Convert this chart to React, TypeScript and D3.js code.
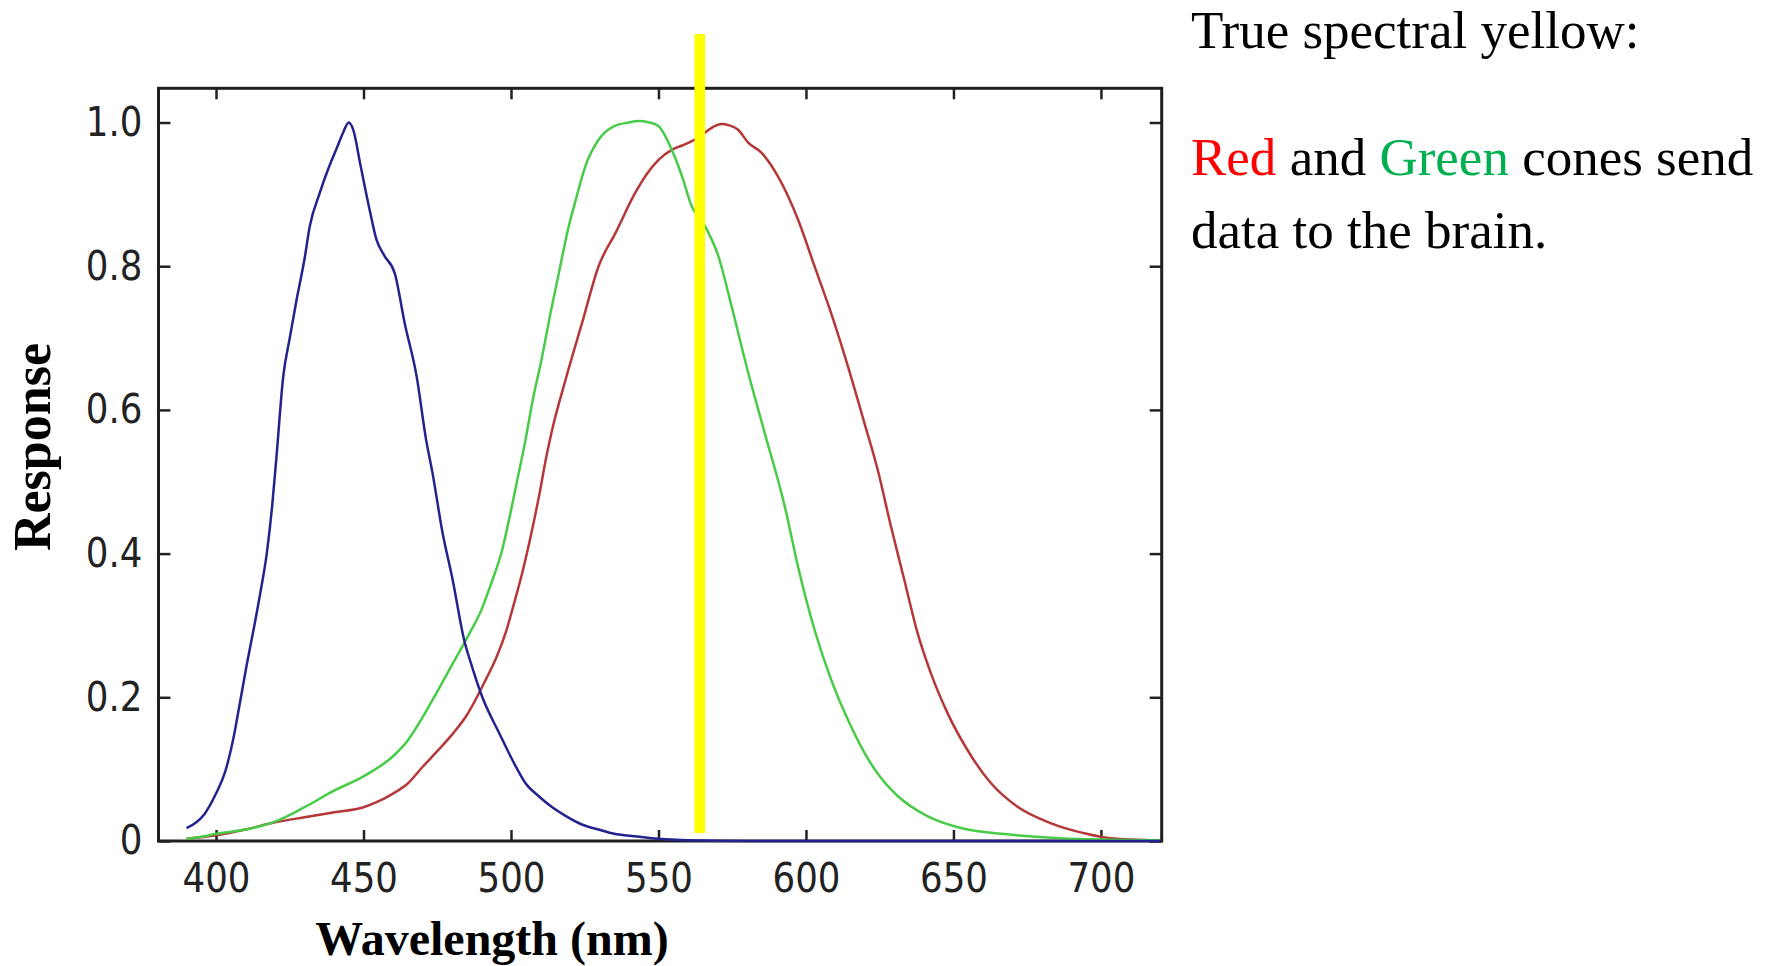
import React, { useEffect, useRef } from "react";
import * as d3 from "d3";

// ---- Data ----
const BLUE_NM = [390, 393, 396, 400, 403, 406, 408, 410.4, 413, 415, 417.2, 419, 420.5, 422.8, 425, 427.3, 430, 431.8, 435, 438, 441, 443, 445, 446.5, 449, 452, 454.4, 457, 460.6, 464, 468, 471.2, 473.4, 476.8, 480.2, 484.1, 487, 490.3, 495.9, 501.6, 505, 509.5, 514, 518.5, 524, 529.7, 535, 541, 550, 560, 580, 620, 680, 720];
const BLUE_RESP = [0.018, 0.025, 0.037, 0.066, 0.095, 0.145, 0.19, 0.245, 0.3, 0.345, 0.4, 0.465, 0.535, 0.647, 0.7, 0.753, 0.81, 0.856, 0.9, 0.935, 0.965, 0.985, 1.0, 0.99, 0.94, 0.88, 0.837, 0.815, 0.79, 0.72, 0.647, 0.559, 0.512, 0.429, 0.364, 0.28, 0.24, 0.2, 0.151, 0.104, 0.08, 0.062, 0.047, 0.035, 0.023, 0.016, 0.01, 0.007, 0.003, 0.001, 0, 0, 0, 0];

const GREEN_NM = [390, 395, 400, 410, 420, 430, 440, 450, 460, 465, 470, 475, 480, 485, 490, 493, 497, 500, 502, 505, 507.2, 510.6, 513.4, 516.2, 519.6, 522, 525.2, 529.7, 535, 540, 543, 547, 550, 554.5, 558, 561.3, 565.2, 570.3, 574.8, 580.4, 586, 592.8, 597.3, 602.9, 608.5, 614.2, 619.8, 625, 631, 641, 652.5, 669, 686, 700, 720];
const GREEN_RESP = [0.003, 0.006, 0.01, 0.016, 0.027, 0.047, 0.07, 0.09, 0.118, 0.14, 0.172, 0.208, 0.245, 0.282, 0.322, 0.355, 0.405, 0.46, 0.5, 0.56, 0.61, 0.675, 0.735, 0.79, 0.856, 0.893, 0.939, 0.976, 0.995, 1.0, 1.002, 1.0, 0.995, 0.962, 0.925, 0.883, 0.86, 0.814, 0.744, 0.652, 0.568, 0.466, 0.382, 0.294, 0.225, 0.169, 0.123, 0.09, 0.063, 0.035, 0.018, 0.009, 0.004, 0.002, 0.001];

const RED_NM = [390, 400, 410, 420, 430, 440, 450, 455, 460, 465, 470, 475, 480, 485, 491.5, 495, 498.2, 501, 503.8, 507, 509.5, 512, 514, 518.5, 524.1, 529.7, 535.4, 542.1, 546, 550, 554.5, 558, 561.3, 565.8, 569, 571.4, 574, 577, 580.4, 584.9, 590.5, 597.3, 602.9, 608.5, 614.2, 619.8, 624.3, 628.8, 633.3, 637.8, 642.3, 648, 654.7, 662.6, 671.6, 682.9, 694.2, 703.2, 720];
const RED_RESP = [0.003, 0.008, 0.016, 0.026, 0.033, 0.04, 0.047, 0.055, 0.066, 0.08, 0.103, 0.125, 0.148, 0.175, 0.225, 0.255, 0.29, 0.33, 0.373, 0.43, 0.48, 0.535, 0.573, 0.642, 0.721, 0.8, 0.846, 0.902, 0.928, 0.948, 0.962, 0.968, 0.974, 0.986, 0.995, 0.998, 0.996, 0.99, 0.972, 0.958, 0.925, 0.865, 0.8, 0.735, 0.661, 0.582, 0.517, 0.438, 0.364, 0.29, 0.234, 0.178, 0.127, 0.081, 0.048, 0.025, 0.011, 0.004, 0.001];

const X_TICKS = [400, 450, 500, 550, 600, 650, 700];
const X_TICK_LABELS = ["400", "450", "500", "550", "600", "650", "700"];
const Y_TICKS = [0, 0.2, 0.4, 0.6, 0.8, 1.0];
const Y_TICK_LABELS = ["0", "0.2", "0.4", "0.6", "0.8", "1.0"];
const X_DOMAIN = [380.5, 720.6];
const Y_DOMAIN = [0, 1.0476];

const YELLOW_NM = 564;
const YELLOW_SPAN = [0.011, 1.123];

const X_TITLE = "Wavelength (nm)";
const Y_TITLE = "Response";
const NOTE_TITLE = "True spectral yellow:";

export default function App() {
  const ref = useRef<SVGSVGElement>(null);

  useEffect(() => {
    const svg = d3.select(ref.current);
    svg.selectAll("*").remove();

    const L = 158.5, R = 1161.7, T = 88.3, B = 841;
    const x = d3.scaleLinear().domain(X_DOMAIN).range([L, R]);
    const y = d3.scaleLinear().domain(Y_DOMAIN).range([B, T]);

    svg.append("rect").attr("x", 0).attr("y", 0).attr("width", 1777).attr("height", 966).attr("fill", "#fff");

    // frame
    svg.append("rect")
      .attr("x", L).attr("y", T).attr("width", R - L).attr("height", B - T)
      .attr("fill", "none").attr("stroke", "#1e1e1e").attr("stroke-width", 3);

    const styleAxis = (g: any) => {
      g.select(".domain").remove();
      g.selectAll(".tick line").attr("stroke", "#222").attr("stroke-width", 2.5);
      g.selectAll(".tick text")
        .attr("font-family", "'DejaVu Sans', sans-serif")
        .attr("font-size", 40)
        .attr("fill", "#222");
    };

    const gb = svg.append("g").attr("transform", `translate(0,${B})`)
      .call(d3.axisBottom(x).tickValues(X_TICKS).tickSize(-11).tickPadding(23)
        .tickFormat((d: any, i: number) => X_TICK_LABELS[i]));
    styleAxis(gb);
    const gt = svg.append("g").attr("transform", `translate(0,${T})`)
      .call(d3.axisTop(x).tickValues(X_TICKS).tickSize(-11).tickFormat(() => ""));
    styleAxis(gt);
    const gl = svg.append("g").attr("transform", `translate(${L},0)`)
      .call(d3.axisLeft(y).tickValues(Y_TICKS).tickSize(-12).tickPadding(16)
        .tickFormat((d: any, i: number) => Y_TICK_LABELS[i]));
    styleAxis(gl);
    const gr = svg.append("g").attr("transform", `translate(${R},0)`)
      .call(d3.axisRight(y).tickValues(Y_TICKS).tickSize(-12).tickFormat(() => ""));
    styleAxis(gr);

    // squeeze tick labels horizontally like the reference
    svg.selectAll(".tick text").each(function (this: any) {
      const w = this.getComputedTextLength();
      if (w > 0) {
        d3.select(this).attr("textLength", w * 0.89).attr("lengthAdjust", "spacingAndGlyphs");
      }
    });

    const line = d3.line<[number, number]>()
      .x((d) => x(d[0]))
      .y((d) => y(d[1]))
      .curve(d3.curveMonotoneX);

    const series = [
      { nm: RED_NM, v: RED_RESP, color: "#b53838" },
      { nm: GREEN_NM, v: GREEN_RESP, color: "#48cc48" },
      { nm: BLUE_NM, v: BLUE_RESP, color: "#23238f" },
    ];
    series.forEach((s) => {
      const pts: [number, number][] = s.nm.map((n, i) => [n, s.v[i]]);
      svg.append("path")
        .attr("d", line(pts))
        .attr("fill", "none")
        .attr("stroke", s.color)
        .attr("stroke-width", 2.5)
        .attr("stroke-linejoin", "round");
    });

    // yellow marker
    svg.append("rect")
      .attr("x", x(YELLOW_NM) - 5.3)
      .attr("y", y(YELLOW_SPAN[1]))
      .attr("width", 10.6)
      .attr("height", y(YELLOW_SPAN[0]) - y(YELLOW_SPAN[1]))
      .attr("fill", "#ffff00");

    // axis titles
    svg.append("text")
      .attr("x", 492)
      .attr("y", 955)
      .attr("text-anchor", "middle")
      .attr("font-family", "'Liberation Serif', 'Times New Roman', serif")
      .attr("font-weight", "bold")
      .attr("font-size", 48)
      .attr("fill", "#000")
      .text(X_TITLE);

    svg.append("text")
      .attr("transform", `translate(50,447) rotate(-90)`)
      .attr("text-anchor", "middle")
      .attr("font-family", "'Liberation Serif', 'Times New Roman', serif")
      .attr("font-weight", "bold")
      .attr("font-size", 52)
      .attr("fill", "#000")
      .text(Y_TITLE);

    // side note
    const font = "'Liberation Serif', 'Times New Roman', serif";
    svg.append("text").attr("x", 1191).attr("y", 47.7)
      .attr("font-family", font).attr("font-size", 53).attr("fill", "#000")
      .text(NOTE_TITLE);
    const t2 = svg.append("text").attr("x", 1191).attr("y", 175)
      .attr("font-family", font).attr("font-size", 53).attr("fill", "#000");
    t2.append("tspan").attr("fill", "#ff0000").text("Red");
    t2.append("tspan").text(" and ");
    t2.append("tspan").attr("fill", "#00b050").text("Green");
    t2.append("tspan").text(" cones send");
    svg.append("text").attr("x", 1191).attr("y", 248.3)
      .attr("font-family", font).attr("font-size", 53).attr("fill", "#000")
      .text("data to the brain.");
  }, []);

  return (
    <svg
      ref={ref}
      width={1777}
      height={966}
      style={{ position: "absolute", left: 0, top: 0, display: "block" }}
    />
  );
}
